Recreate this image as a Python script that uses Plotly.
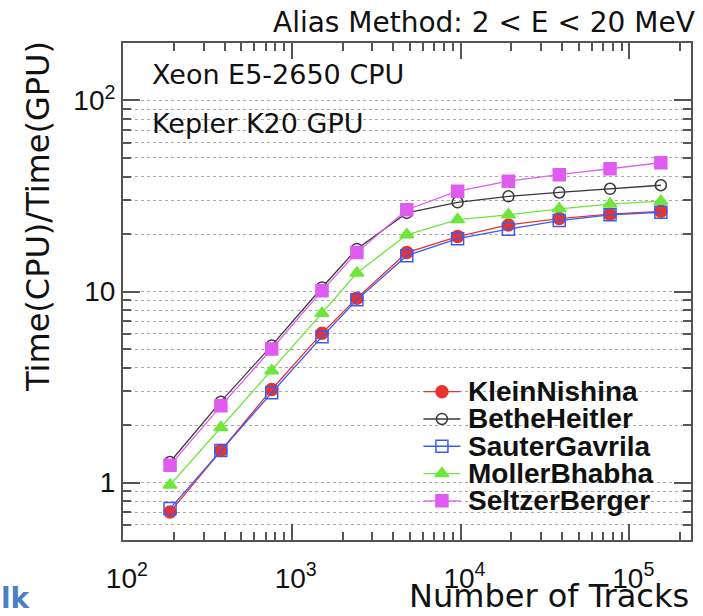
import plotly.graph_objects as go

# ---- data ----
tracks = [190, 380, 760, 1510, 2430, 4800, 9600, 19200, 38400, 76800, 153600]
klein_nishina = [0.70, 1.47, 3.07, 6.05, 9.23, 16.0, 19.4, 22.3, 24.1, 25.4, 26.3]
bethe_heitler = [1.28, 2.65, 5.21, 10.5, 16.7, 25.8, 29.3, 31.5, 33.0, 34.5, 36.0]
sauter_gavrila = [0.73, 1.47, 2.95, 5.8, 9.04, 15.4, 18.9, 21.2, 23.5, 25.2, 26.0]
moller_bhabha = [0.97, 1.94, 3.85, 7.7, 12.5, 19.8, 23.8, 25.2, 27.1, 28.7, 29.7]
seltzer_berger = [1.23, 2.52, 5.0, 10.1, 16.0, 26.8, 33.5, 37.8, 40.9, 43.9, 47.2]

series_names = ["KleinNishina", "BetheHeitler", "SauterGavrila", "MollerBhabha", "SeltzerBerger"]
series_values = [klein_nishina, bethe_heitler, sauter_gavrila, moller_bhabha, seltzer_berger]

x_major = [1e2, 1e3, 1e4, 1e5]
x_major_text = ["&nbsp;10<sup>2</sup>", "&nbsp;10<sup>3</sup>", "&nbsp;10<sup>4</sup>", "&nbsp;10<sup>5</sup>"]
y_major = [1, 10, 100]
y_major_text = ["1", "10", "10<sup>2</sup>"]

title_text = "Alias Method: 2 < E < 20 MeV"
x_title = "Number of Tracks"
y_title = "Time(CPU)/Time(GPU)"
info_lines = ["Xeon E5-2650 CPU", "Kepler K20 GPU"]

# ---- styles ----
colors = ["#e8332f", "#3a3a3a", "#3a5cf5", "#6ee63c", "#e05cf0"]
symbols = ["circle", "circle-open", "square-open", "triangle-up", "square"]
msizes = [12, 11, 12, 12, 12]

x_minor = [m * 10 ** e for e in range(2, 6) for m in range(2, 10)]
x_minor = [v for v in x_minor if v <= 2.3e5]
y_minor = [m * 10 ** e for e in (-1, 0, 1, 2) for m in range(2, 10)]
y_minor = [v for v in y_minor if 0.5 <= v <= 200]

fig = go.Figure()
for name, vals, c, s, ms in zip(series_names, series_values, colors, symbols, msizes):
    fig.add_trace(go.Scatter(
        x=tracks, y=vals, name=name, mode="lines+markers",
        line=dict(color=c, width=1.3),
        marker=dict(color=c, symbol=s, size=ms, line=dict(color=c, width=1.5)),
        showlegend=False, cliponaxis=False,
    ))

# ---- custom legend (glyphs drawn on an invisible overlay axis) ----
leg_x0, leg_x1, leg_xm = 0.529, 0.594, 0.5615
leg_text_x = 0.603
leg_y_top, leg_step = 0.2984, 0.0549
for i, (name, c, s, ms) in enumerate(zip(series_names, colors, symbols, msizes)):
    yy = leg_y_top - i * leg_step
    fig.add_trace(go.Scatter(x=[leg_x0, leg_x1], y=[yy, yy], mode="lines",
                             line=dict(color=c, width=1.3), xaxis="x2", yaxis="y2",
                             showlegend=False, hoverinfo="skip"))
    fig.add_trace(go.Scatter(x=[leg_xm], y=[yy], mode="markers",
                             marker=dict(color=c, symbol=s, size=ms, line=dict(color=c, width=1.5)),
                             xaxis="x2", yaxis="y2", showlegend=False, hoverinfo="skip"))
    fig.add_annotation(x=leg_text_x, y=yy, xref="paper", yref="paper", text="<b>" + name + "</b>",
                       showarrow=False, xanchor="left", yanchor="middle",
                       font=dict(family="Liberation Sans", size=28, color="#111"))

axis_col = "#555555"
grid_col = "#a8a8a8"
fig.update_layout(
    width=703, height=616,
    margin=dict(l=123, r=10, t=43, b=76),
    paper_bgcolor="white", plot_bgcolor="white",
    showlegend=False,
    xaxis=dict(type="log", range=[2, 5.365], tickmode="array", tickvals=x_major, ticktext=x_major_text,
               ticks="inside", ticklen=16, tickwidth=1.5, tickcolor=axis_col,
               showline=True, linecolor=axis_col, linewidth=2, mirror="ticks",
               showgrid=False, zeroline=False, ticklabelstandoff=12,
               tickfont=dict(family="Liberation Sans", size=28, color="#111"),
               minor=dict(tickmode="array", tickvals=x_minor, ticks="inside", ticklen=8,
                          tickwidth=1.5, tickcolor=axis_col, showgrid=False)),
    yaxis=dict(type="log", range=[-0.301, 2.301], tickmode="array", tickvals=y_major, ticktext=y_major_text,
               ticks="inside", ticklen=17, tickwidth=1.5, tickcolor=axis_col,
               showline=True, linecolor=axis_col, linewidth=2, mirror="ticks",
               showgrid=True, gridcolor=grid_col, griddash="dot", gridwidth=1,
               zeroline=False, ticklabelstandoff=0,
               tickfont=dict(family="Liberation Sans", size=28, color="#111"),
               minor=dict(tickmode="array", tickvals=y_minor, ticks="inside", ticklen=8,
                          tickwidth=1.5, tickcolor=axis_col, showgrid=True,
                          gridcolor=grid_col, griddash="dot", gridwidth=1)),
    xaxis2=dict(overlaying="x", range=[0, 1], visible=False, fixedrange=True),
    yaxis2=dict(overlaying="y", range=[0, 1], visible=False, fixedrange=True),
)

dv = "DejaVu Sans"


# positions in paper units of the plotting area
def px_x(px):
    return (px - 123.3) / 570.0


def px_y(py):
    return (540.0 - py) / 497.0


fig.add_annotation(x=px_x(699), y=px_y(23), xref="paper", yref="paper", xanchor="right", yanchor="middle",
                   text=title_text, showarrow=False, font=dict(family=dv, size=28, color="#111"))
fig.add_annotation(x=px_x(150), y=px_y(75), xref="paper", yref="paper", xanchor="left", yanchor="middle",
                   text=info_lines[0], showarrow=False, font=dict(family=dv, size=27, color="#111"))
fig.add_annotation(x=px_x(150), y=px_y(124), xref="paper", yref="paper", xanchor="left", yanchor="middle",
                   text=info_lines[1], showarrow=False, font=dict(family=dv, size=27, color="#111"))
fig.add_annotation(x=px_x(693), y=px_y(596), xref="paper", yref="paper", xanchor="right", yanchor="middle",
                   text=x_title, showarrow=False, font=dict(family=dv, size=32, color="#111"))
fig.add_annotation(x=px_x(38), y=px_y(216), xref="paper", yref="paper", xanchor="center", yanchor="middle",
                   text=y_title, textangle=-90, showarrow=False, font=dict(family=dv, size=32, color="#111"))
fig.add_annotation(x=px_x(33), y=px_y(598), xref="paper", yref="paper", xanchor="right", yanchor="middle",
                   text="<b>lk</b>", showarrow=False, font=dict(family=dv, size=28, color="#4a80c4"))

fig.write_html("out.html")
